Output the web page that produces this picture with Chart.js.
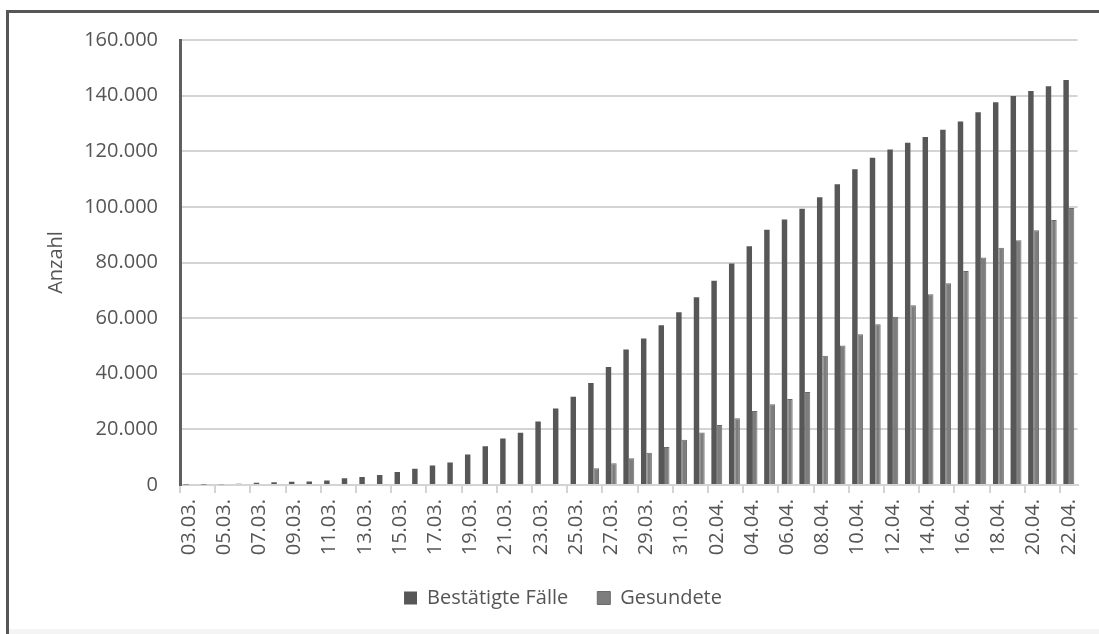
<!DOCTYPE html>
<html lang="de">
<head>
<meta charset="utf-8">
<title>Bestätigte Fälle und Gesundete</title>
<script src="https://cdn.jsdelivr.net/npm/chart.js@4.4.0/dist/chart.umd.min.js"></script>
<style>
    html, body { margin: 0; padding: 0; background: #ffffff; }
    #wrap { position: relative; width: 1099px; height: 634px; overflow: hidden; }
    #frame {
        position: absolute; left: 6px; top: 10px; width: 1100px; height: 640px;
        border: 3px solid #575757; border-bottom: none; border-right: none; pointer-events: none;
    }
    #band { position: absolute; left: 9px; right: 0; bottom: 0; height: 5px; background: #f4f4f4; }
</style>
</head>
<body>
<div id="wrap">
    <canvas id="chart" width="1099" height="634"></canvas>
    <div id="band"></div>
    <div id="frame"></div>
</div>
<script>
const dates = [
    "03.03.", "04.03.", "05.03.", "06.03.", "07.03.", "08.03.", "09.03.", "10.03.", "11.03.", "12.03.",
    "13.03.", "14.03.", "15.03.", "16.03.", "17.03.", "18.03.", "19.03.", "20.03.", "21.03.", "22.03.",
    "23.03.", "24.03.", "25.03.", "26.03.", "27.03.", "28.03.", "29.03.", "30.03.", "31.03.", "01.04.",
    "02.04.", "03.04.", "04.04.", "05.04.", "06.04.", "07.04.", "08.04.", "09.04.", "10.04.", "11.04.",
    "12.04.", "13.04.", "14.04.", "15.04.", "16.04.", "17.04.", "18.04.", "19.04.", "20.04.", "21.04.",
    "22.04."
];

const confirmed = [
    160, 200, 260, 480, 800, 950, 1200, 1300, 1650, 2400,
    2900, 3600, 4700, 5850, 7050, 8050, 11000, 13900, 16750, 18800,
    22800, 27500, 31700, 36700, 42400, 48700, 52700, 57400, 62100, 67500,
    73400, 79600, 85800, 91800, 95500, 99300, 103500, 108100, 113500, 117700,
    120600, 123100, 125100, 127700, 130700, 134000, 137600, 139900, 141700, 143400,
    145600
];

const recovered = [
    null, null, null, null, null, null, null, null, null, null,
    null, null, null, null, null, null, null, null, null, null,
    null, null, null, 6000, 7800, 9600, 11600, 13700, 16300, 18900,
    21600, 24000, 26600, 29000, 30900, 33400, 46500, 50200, 54200, 57800,
    60500, 64600, 68600, 72500, 76900, 81800, 85300, 88000, 91600, 95300,
    99600
];

const seriesNames = ["Bestätigte Fälle", "Gesundete"];
const yTicks = [0, 20000, 40000, 60000, 80000, 100000, 120000, 140000, 160000];

function formatDe(v) {
    return String(v).replace(/\B(?=(\d{3})+(?!\d))/g, ".");
}

document.addEventListener('DOMContentLoaded', function() {
    const textColor = '#555555';
    const font = { family: "'Open Sans', sans-serif", size: 20 };
    const ctx = document.getElementById('chart').getContext('2d');

    new Chart(ctx, {
        type: 'bar',
        data: {
            labels: dates,
            datasets: [
                {
                    label: seriesNames[0],
                    data: confirmed,
                    backgroundColor: '#575757',
                    borderWidth: 0,
                    categoryPercentage: 0.62,
                    barPercentage: 1.0
                },
                {
                    label: seriesNames[1],
                    data: recovered,
                    backgroundColor: '#7d7d7d',
                    borderColor: '#6a6a6a',
                    borderWidth: 1,
                    categoryPercentage: 0.62,
                    barPercentage: 1.0
                }
            ]
        },
        options: {
            responsive: false,
            animation: false,
            layout: {
                padding: { left: 44, top: 40, right: 17, bottom: 16 }
            },
            plugins: {
                tooltip: { enabled: false },
                legend: {
                    position: 'bottom',
                    labels: {
                        color: textColor,
                        font: font,
                        boxWidth: 13,
                        boxHeight: 13,
                        padding: 29
                    }
                }
            },
            scales: {
                x: {
                    afterFit: function(scale) { scale.height = 74; },
                    border: { color: '#d4d4d4', width: 2 },
                    grid: {
                        drawOnChartArea: false,
                        drawTicks: true,
                        tickLength: 8,
                        lineWidth: 2,
                        color: function(c) {
                            return (c.index !== undefined && c.index % 2 === 0) ? '#d4d4d4' : 'rgba(0,0,0,0)';
                        }
                    },
                    ticks: {
                        autoSkip: false,
                        minRotation: 90,
                        maxRotation: 90,
                        padding: 6,
                        color: textColor,
                        font: font,
                        callback: function(value, index) {
                            return index % 2 === 0 ? dates[index] : '';
                        }
                    }
                },
                y: {
                    min: 0,
                    max: 160000,
                    afterFit: function(scale) { scale.width = 136; },
                    afterBuildTicks: function(scale) {
                        scale.ticks = yTicks.map(v => ({ value: v }));
                    },
                    border: { color: '#5f5f5f', width: 3 },
                    grid: {
                        color: '#d4d4d4',
                        lineWidth: 2,
                        drawTicks: false
                    },
                    ticks: {
                        padding: 22,
                        color: textColor,
                        font: font,
                        callback: function(value) { return formatDe(value); }
                    },
                    title: {
                        display: true,
                        text: 'Anzahl',
                        color: textColor,
                        font: font,
                        padding: 0
                    }
                }
            }
        }
    });
});
</script>
</body>
</html>
